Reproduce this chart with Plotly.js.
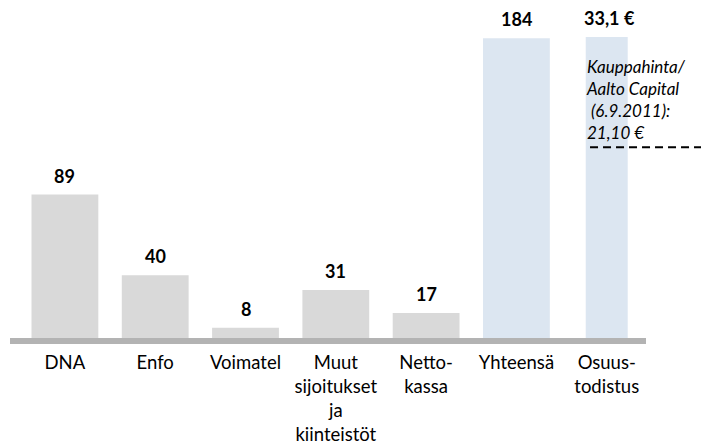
<!DOCTYPE html>
<html>
<head>
<meta charset="utf-8">
<script src="https://cdn.plot.ly/plotly-3.0.1.min.js"></script>
<style>html,body{margin:0;padding:0;background:#fff;}#chart{width:701px;height:447px;}</style>
</head>
<body>
<div id="chart"></div>
<script>
// ---- data ----
var categories = ['DNA', 'Enfo', 'Voimatel', 'Muut', 'Nettokassa', 'Yhteensä'];
var values = [89, 40, 8, 31, 17, 184];
var priceCategory = ['Osuustodistus'];
var priceValue = [33.1];
var marketPrice = 21.10;
var tickCategories = ['DNA', 'Enfo', 'Voimatel', 'Muut', 'Nettokassa', 'Yhteensä', 'Osuustodistus'];
var tickLabels = ['DNA', 'Enfo', 'Voimatel', 'Muut<br>sijoitukset<br>ja<br>kiinteistöt', 'Netto-<br>kassa', 'Yhteensä', 'Osuus-<br>todistus'];
var noteText = 'Kauppahinta/<br>Aalto Capital<br>\u00A0(6.9.2011):<br>21,10 €';

// ---- style ----
var grayColor = '#d9d9d9';
var blueColor = '#dce6f1';
var totalName = 'Yhteensä';
var baseFont = 'Lato, "Open Sans", sans-serif';

function fmtEuro(v) { return v.toFixed(1).replace('.', ',') + ' €'; }

var traces = [
  {
    type: 'bar', x: categories, y: values,
    marker: { color: categories.map(function (c) { return c === totalName ? blueColor : grayColor; }) },
    width: 0.74, hoverinfo: 'none', yaxis: 'y'
  },
  {
    type: 'bar', x: priceCategory, y: priceValue,
    marker: { color: blueColor },
    width: 0.465, hoverinfo: 'none', yaxis: 'y2'
  }
];

var annotations = categories.map(function (c, i) {
  return {
    x: c, y: values[i], xref: 'x', yref: 'y', text: '<b>' + values[i] + '</b>',
    showarrow: false, yanchor: 'bottom', yshift: 6,
    font: { family: baseFont, size: 18, color: '#000' }
  };
});
annotations.push({
  x: priceCategory[0], y: priceValue[0], xref: 'x', yref: 'y2', text: '<b>' + fmtEuro(priceValue[0]) + '</b>',
  showarrow: false, yanchor: 'bottom', yshift: 6, xshift: 3,
  font: { family: baseFont, size: 18, color: '#000' }
});
annotations.push({
  x: priceCategory[0], y: 1, xref: 'x', yref: 'paper', text: '<i>' + noteText + '</i>',
  showarrow: false, xanchor: 'left', yanchor: 'top', align: 'left', xshift: -23, yshift: -24,
  font: { family: baseFont, size: 17, color: '#000' }
});

var layout = {
  width: 701, height: 447,
  margin: { l: 10, r: 0, t: 30, b: 106 },
  paper_bgcolor: '#fff', plot_bgcolor: '#fff',
  showlegend: false, barmode: 'overlay',
  xaxis: {
    type: 'category', categoryorder: 'array', categoryarray: tickCategories,
    range: [-0.608, 7.044],
    tickmode: 'array', tickvals: tickCategories, ticktext: tickLabels,
    showgrid: false, zeroline: false, showline: false, ticks: '',
    ticklabelstandoff: 8,
    tickfont: { family: baseFont, size: 18.5, color: '#000' }
  },
  yaxis: { range: [0, 189], visible: false, fixedrange: true },
  yaxis2: { range: [0, 33.86], overlaying: 'y', visible: false, fixedrange: true },
  shapes: [
    { type: 'line', xref: 'paper', yref: 'paper', x0: 0, x1: 0.9204, y0: 0, y1: 0,
      line: { color: '#b3b3b3', width: 6 } },
    { type: 'line', xref: 'x', yref: 'y2', x0: 5.815, x1: 7.044, y0: marketPrice, y1: marketPrice,
      line: { color: '#000', width: 2, dash: '8px,5px' } }
  ],
  annotations: annotations
};

Plotly.newPlot('chart', traces, layout, { staticPlot: true, displayModeBar: false });
</script>
</body>
</html>
